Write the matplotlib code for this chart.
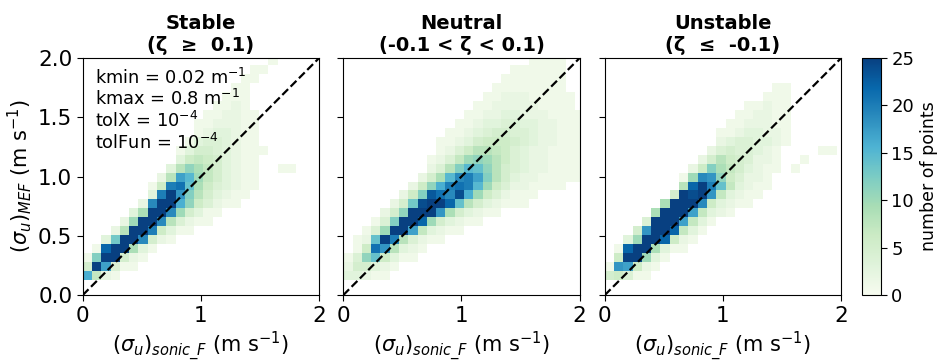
import numpy as np
import matplotlib.pyplot as plt

# bin edges of the 2D histograms (same for all three panels)
x_edges = np.arange(27) * 0.0786
y_edges = 0.127 + np.arange(26) * 0.0756

# counts per cell, top row first: (first column, values)
# '.' = 0, '0'-'9' = 0-9, 'a'-'p' = 10-25 (25 = saturated)
levels = "0123456789abcdefghijklmnop"

stable = [
    (20, "1"),
    (18, "11"),
    (17, "11"),
    (16, "11"),
    (15, "111"),
    (14, "1121"),
    (13, "112211"),
    (12, "1122211"),
    (12, "1233211"),
    (11, "13443211"),
    (10, "1355432111"),
    (10, "367653211"),
    (9, "38b9753211..11"),
    (8, "28hfa753211"),
    (7, "16kle9643211"),
    (7, "3kpic853211"),
    (6, "2jppgb64211"),
    (5, "39ppja5311"),
    (4, "2appj84211"),
    (3, "28ppk6311"),
    (2, "3dppj521"),
    (1, "1mpp931"),
    (0, "1cpp521"),
    (0, "5ph411"),
    (0, "g721"),
]

neutral = [
    (20, "1111"),
    (18, "111111"),
    (17, "1111111"),
    (16, "11111111"),
    (15, "1122211111"),
    (14, "11222221111"),
    (13, "1122332221111"),
    (12, "11233443322111"),
    (11, "112345544322111"),
    (10, "1123566654322111"),
    (10, "1246887643221111"),
    (9, "1247aba8643221111"),
    (9, "248cfeb8543221111"),
    (8, "259fjkhc8532211111"),
    (7, "26bgklkfa64221111"),
    (6, "26cnljoga642111"),
    (5, "25doppme8532111"),
    (4, "25bpppi953211"),
    (3, "14cppma53211"),
    (2, "14apph73211"),
    (1, "12epk84211"),
    (1, "16li8321"),
    (0, "14be6311"),
    (0, "255321"),
    (0, "33211"),
]

unstable = [
    (0, ""),
    (0, ""),
    (0, ""),
    (18, "11"),
    (17, "111"),
    (15, "11211"),
    (14, "112211"),
    (13, "1122211"),
    (12, "11233221"),
    (12, "23443321"),
    (11, "24544321....11"),
    (10, "258654221..1"),
    (9, "26c9753211.1"),
    (8, "1ajib64221"),
    (8, "8mpke73211"),
    (7, "5popi73211"),
    (6, "9pppj63211"),
    (5, "9ppph7321"),
    (4, "4ppph731"),
    (3, "5ippm731"),
    (2, "3appm621"),
    (1, "1mpp9311"),
    (1, "6ppa31"),
    (0, "1ih621"),
    (0, "56411"),
]

titles = ["Stable\n(ζ  ≥  0.1)", "Neutral\n(-0.1 < ζ < 0.1)", "Unstable\n(ζ  ≤  -0.1)"]
panels = [stable, neutral, unstable]


def to_grid(rows):
    grid = np.zeros((len(y_edges) - 1, len(x_edges) - 1))
    for i, (start, vals) in enumerate(rows):
        for j, ch in enumerate(vals):
            if ch != '.':
                grid[i, start + j] = levels.index(ch)
    grid = grid[::-1]  # bottom row first
    return np.ma.masked_equal(grid, 0)


fig = plt.figure(figsize=(9.42, 3.63), dpi=100)
lefts = [0.0878, 0.3644, 0.642]
axes = [fig.add_axes([l, 0.187, 0.2509, 0.653]) for l in lefts]

for k, ax in enumerate(axes):
    mesh = ax.pcolormesh(x_edges, y_edges, to_grid(panels[k]),
                         cmap='GnBu', vmin=0, vmax=25)
    ax.plot([0, 2], [0, 2], 'k--', lw=1.6)
    ax.set_xlim(0, 2)
    ax.set_ylim(0, 2)
    ax.set_xticks([0, 1, 2])
    ax.set_yticks([0, 0.5, 1, 1.5, 2])
    ax.tick_params(labelsize=15.5, length=4)
    ax.set_title(titles[k], fontweight='bold', fontsize=14, pad=5)
    ax.set_xlabel(r'$(\sigma_u)_{sonic\_F}$ (m s$^{-1}$)', fontsize=15, labelpad=3)
    if k == 0:
        ax.set_yticklabels(['0.0', '0.5', '1.0', '1.5', '2.0'])
        ax.set_ylabel(r'$(\sigma_u)_{MEF}$ (m s$^{-1}$)', fontsize=15, labelpad=3)
    else:
        ax.set_yticklabels([])

axes[0].text(0.052, 0.96,
             'kmin = 0.02 m$^{-1}$\nkmax = 0.8 m$^{-1}$\ntolX = 10$^{-4}$\ntolFun = 10$^{-4}$',
             transform=axes[0].transAxes, va='top', ha='left', fontsize=12.8,
             linespacing=1.1)

cax = fig.add_axes([0.915, 0.187, 0.020, 0.653])
cb = fig.colorbar(mesh, cax=cax, ticks=[0, 5, 10, 15, 20, 25])
cb.ax.tick_params(labelsize=13, length=4)
cb.set_label('number of points', fontsize=12.5)

plt.savefig("out.png", dpi=100)
